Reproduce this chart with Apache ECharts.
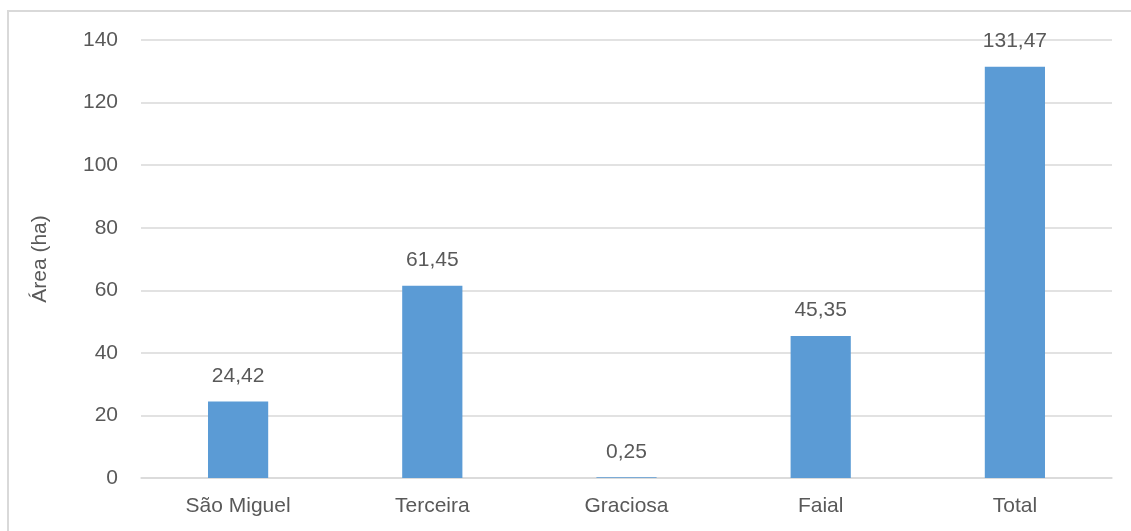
<!DOCTYPE html>
<html>
<head>
<meta charset="utf-8">
<script src="https://cdn.jsdelivr.net/npm/echarts@6/dist/echarts.min.js"></script>
<style>
  html, body { margin: 0; padding: 0; background: #fff; }
  #chart { width: 1131px; height: 531px; }
</style>
</head>
<body>
<div id="chart"></div>
<script>
const categories = ['São Miguel', 'Terceira', 'Graciosa', 'Faial', 'Total'];
const areaValues = [24.42, 61.45, 0.25, 45.35, 131.47];

const textColor = '#595959';
const fontFamily = 'Liberation Sans, Arial, sans-serif';

const chart = echarts.init(document.getElementById('chart'));

const options = {
  animation: false,
  backgroundColor: '#fff',
  graphic: [
    {
      type: 'rect',
      shape: { x: 8, y: 11, width: 1200, height: 600 },
      style: { fill: 'none', stroke: '#d9d9d9', lineWidth: 2 },
      silent: true
    }
  ],
  grid: {
    left: 141,
    right: 19,
    top: 40,
    bottom: 53
  },
  xAxis: {
    type: 'category',
    data: categories,
    axisLine: { lineStyle: { color: '#d9d9d9', width: 1.5 } },
    axisTick: { show: false },
    axisLabel: {
      color: textColor,
      fontSize: 21,
      fontFamily: fontFamily,
      margin: 18
    }
  },
  yAxis: {
    type: 'value',
    min: 0,
    max: 140,
    interval: 20,
    name: 'Área (ha)',
    nameLocation: 'middle',
    nameGap: 90,
    nameTextStyle: {
      color: textColor,
      fontSize: 21,
      fontFamily: fontFamily
    },
    axisLine: { show: false },
    axisTick: { show: false },
    axisLabel: {
      color: textColor,
      fontSize: 21,
      fontFamily: fontFamily,
      margin: 23
    },
    splitLine: { lineStyle: { color: '#d9d9d9', width: 1.5 } }
  },
  series: [
    {
      name: 'Área',
      type: 'bar',
      data: areaValues,
      barWidth: '31%',
      itemStyle: { color: '#5b9bd5' },
      label: {
        show: true,
        position: 'top',
        distance: 15,
        color: textColor,
        fontSize: 21,
        fontFamily: fontFamily,
        formatter: (p) => p.value.toFixed(2).replace('.', ',')
      }
    }
  ]
};

chart.setOption(options);
</script>
</body>
</html>
